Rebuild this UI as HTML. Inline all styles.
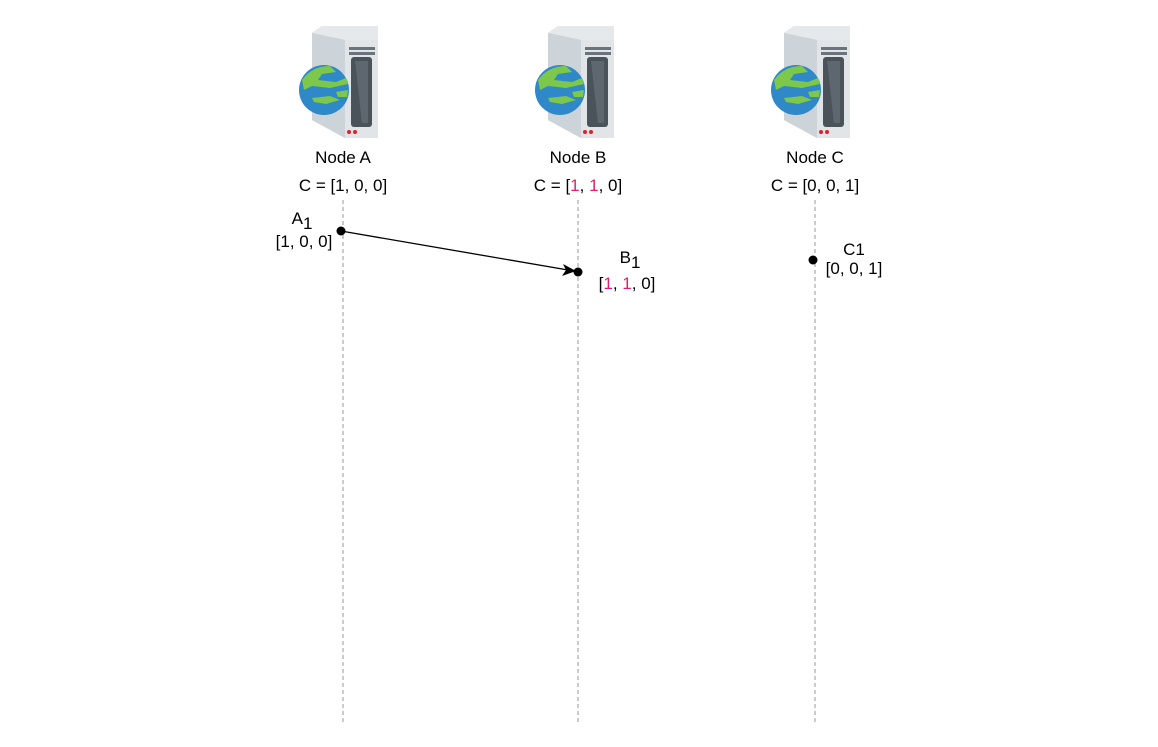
<!DOCTYPE html>
<html><head><style>
body{margin:0;background:#fff;}
svg{display:block;font-family:"Liberation Sans",Arial,sans-serif;}
</style></head><body>
<svg width="1158" height="747" viewBox="0 0 1158 747">
<defs>
<g id="srv">
  <polygon points="312,33 322,26 378,26 378,138 345,138 312,120" fill="#c9d0d6"/>
  <polygon points="312,33 322,26 378,26 378,40 345,40" fill="#e6e9ec"/>
  <polygon points="345,40 378,40 378,138 345,138" fill="#e1e5e8"/>
  <polygon points="312,33 345,40 345,138 312,120" fill="#ccd3d9"/>
  <rect x="349" y="47" width="26" height="3" fill="#6b747c"/>
  <rect x="349" y="52" width="26" height="3" fill="#6b747c"/>
  <rect x="351" y="57" width="21" height="70" rx="3" fill="#4a525a"/>
  <polygon points="355,61 368,61 368,123 362,123" fill="#5e676f"/>
  <circle cx="349" cy="132" r="2" fill="#e0202a"/>
  <circle cx="355" cy="132" r="2" fill="#e0202a"/>
  <circle cx="324" cy="90" r="25" fill="#2f88c8"/>
  <path d="M302,80 Q312,66 330,66 L336,72 L322,74 L318,80 L336,82 L346,78 L348,84 L330,88 L312,86 L304,90 Z" fill="#7dc74a"/>
  <path d="M312,98 L330,96 L340,100 L326,104 L314,102 Z" fill="#7dc74a"/>
  <path d="M336,92 L348,90 L347,97 L338,97 Z" fill="#7dc74a"/>
</g>
</defs>
<use href="#srv"/>
<use href="#srv" x="236"/>
<use href="#srv" x="472"/>
<g stroke="#999" stroke-width="1" stroke-dasharray="4,3">
<line x1="343" y1="200" x2="343" y2="723"/>
<line x1="578" y1="200" x2="578" y2="723"/>
<line x1="815" y1="200" x2="815" y2="723"/>
</g>
<g font-size="17" text-anchor="middle" fill="#000">
<text x="343" y="163">Node A</text>
<text x="578" y="163">Node B</text>
<text x="815" y="163">Node C</text>
<text x="343" y="191">C = [1, 0, 0]</text>
<text x="578" y="191">C = [<tspan fill="#e0206a">1</tspan>, <tspan fill="#e0206a">1</tspan>, 0]</text>
<text x="815" y="191">C = [0, 0, 1]</text>
<text x="302" y="224">A<tspan dy="5">1</tspan></text>
<text x="304" y="247">[1, 0, 0]</text>
<text x="630" y="263">B<tspan dy="5">1</tspan></text>
<text x="627" y="289">[<tspan fill="#e0206a">1</tspan>, <tspan fill="#e0206a">1</tspan>, 0]</text>
<text x="854" y="255">C1</text>
<text x="854" y="274">[0, 0, 1]</text>
</g>
<line x1="341" y1="231" x2="568" y2="270" stroke="#000" stroke-width="1.3"/>
<polygon points="576,271 563,264 566,270 562,276" fill="#000"/>
<circle cx="341" cy="231" r="4.5" fill="#000"/>
<circle cx="578" cy="272" r="4.5" fill="#000"/>
<circle cx="813" cy="260" r="4.5" fill="#000"/>
</svg>
</body></html>
